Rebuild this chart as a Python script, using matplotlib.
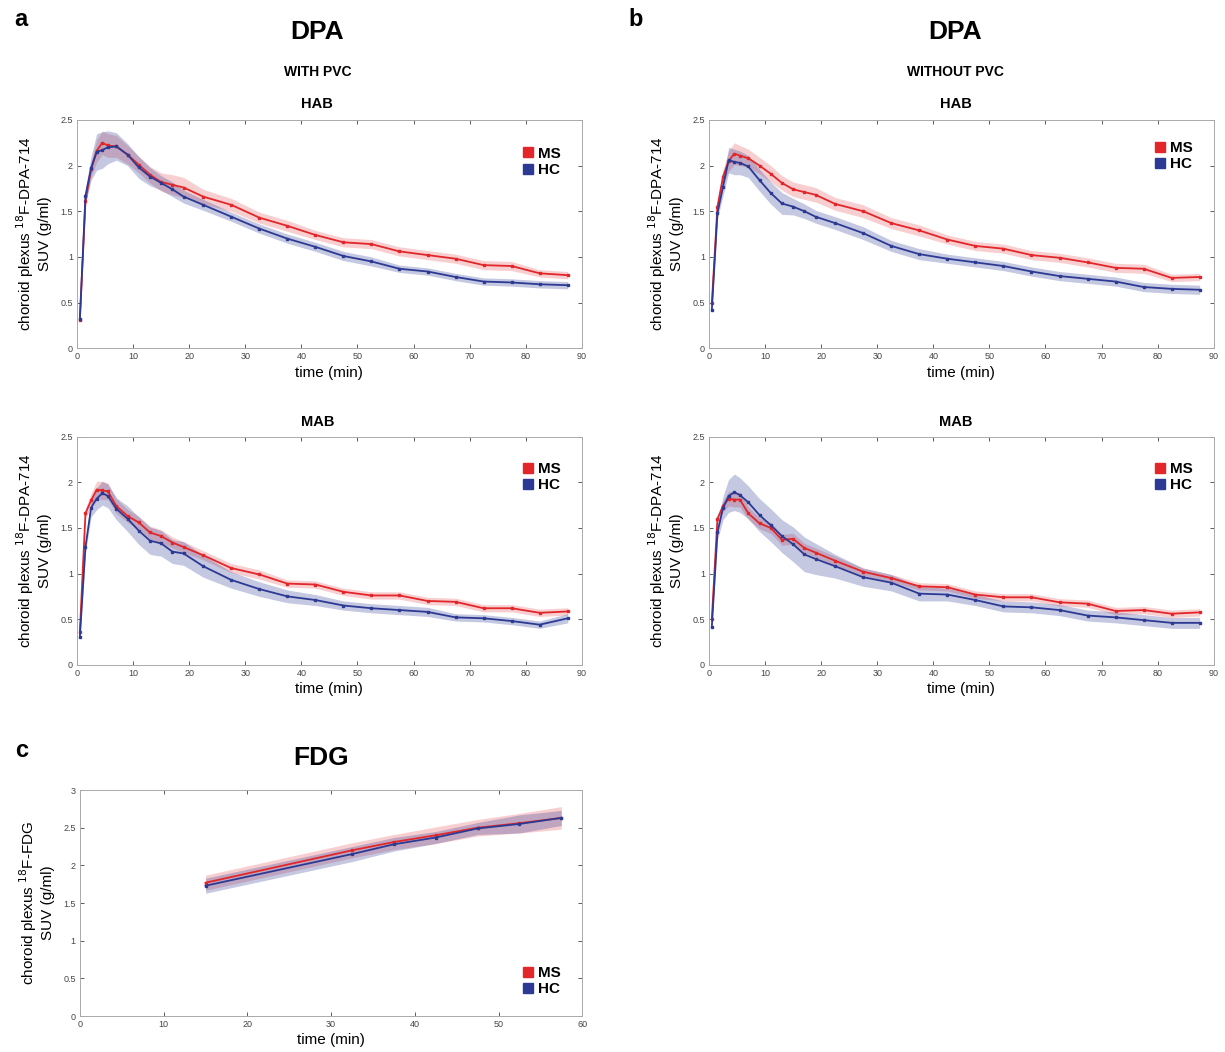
import numpy as np
import matplotlib
matplotlib.use('Agg')
import matplotlib.pyplot as plt
from matplotlib.lines import Line2D

plt.rcParams['font.family'] = ['Liberation Sans', 'DejaVu Sans']

# ------------------------------------------------------------------
# Data
# ------------------------------------------------------------------
t_dpa = [0.5, 1.5, 2.5, 3.5, 4.5, 5.5, 7, 9, 11, 13, 15, 17, 19, 22.5, 27.5,
         32.5, 37.5, 42.5, 47.5, 52.5, 57.5, 62.5, 67.5, 72.5, 77.5, 82.5, 87.5]

# with PVC, HAB
pvc_hab_ms = [0.31, 1.61, 1.96, 2.16, 2.25, 2.22, 2.21, 2.12, 2.01, 1.90, 1.82, 1.79, 1.76, 1.66,
              1.57, 1.43, 1.34, 1.24, 1.16, 1.14, 1.06, 1.02, 0.98, 0.91, 0.90, 0.82, 0.80]
pvc_hab_ms_sem = [0.02, 0.05, 0.08, 0.12, 0.13, 0.13, 0.12, 0.10, 0.09, 0.09, 0.10, 0.11, 0.11, 0.08,
                  0.07, 0.06, 0.06, 0.05, 0.05, 0.05, 0.05, 0.05, 0.05, 0.05, 0.05, 0.04, 0.04]
pvc_hab_hc = [0.32, 1.67, 1.97, 2.15, 2.17, 2.20, 2.21, 2.12, 1.98, 1.88, 1.81, 1.74, 1.66, 1.57,
              1.44, 1.31, 1.20, 1.11, 1.01, 0.95, 0.87, 0.84, 0.78, 0.73, 0.72, 0.70, 0.69]
pvc_hab_hc_sem = [0.02, 0.08, 0.13, 0.20, 0.20, 0.18, 0.15, 0.12, 0.12, 0.10, 0.08, 0.08, 0.07, 0.06,
                  0.05, 0.05, 0.05, 0.05, 0.05, 0.05, 0.04, 0.04, 0.04, 0.04, 0.04, 0.04, 0.04]

# without PVC, HAB
nopvc_hab_ms = [0.49, 1.55, 1.88, 2.05, 2.13, 2.11, 2.08, 2.00, 1.91, 1.81, 1.74, 1.71, 1.68, 1.58,
                1.50, 1.37, 1.29, 1.19, 1.12, 1.09, 1.02, 0.99, 0.94, 0.88, 0.87, 0.77, 0.78]
nopvc_hab_ms_sem = [0.02, 0.05, 0.08, 0.11, 0.12, 0.11, 0.10, 0.09, 0.09, 0.08, 0.08, 0.08, 0.08, 0.07,
                    0.07, 0.06, 0.06, 0.05, 0.05, 0.05, 0.05, 0.05, 0.05, 0.05, 0.05, 0.04, 0.04]
nopvc_hab_hc = [0.42, 1.48, 1.77, 2.06, 2.04, 2.03, 1.99, 1.84, 1.70, 1.585, 1.55, 1.50, 1.44, 1.37,
                1.26, 1.12, 1.03, 0.98, 0.94, 0.90, 0.84, 0.79, 0.76, 0.73, 0.67, 0.65, 0.64]
nopvc_hab_hc_sem = [0.02, 0.06, 0.10, 0.14, 0.14, 0.13, 0.12, 0.12, 0.12, 0.12, 0.09, 0.08, 0.07, 0.07,
                    0.07, 0.06, 0.06, 0.05, 0.05, 0.05, 0.05, 0.05, 0.05, 0.05, 0.05, 0.05, 0.05]

# with PVC, MAB
pvc_mab_ms = [0.36, 1.66, 1.80, 1.92, 1.91, 1.90, 1.74, 1.63, 1.56, 1.45, 1.41, 1.34, 1.29, 1.20,
              1.06, 0.99, 0.89, 0.88, 0.80, 0.76, 0.76, 0.70, 0.69, 0.62, 0.62, 0.57, 0.585]
pvc_mab_ms_sem = [0.02, 0.05, 0.08, 0.09, 0.10, 0.09, 0.08, 0.07, 0.07, 0.07, 0.07, 0.06, 0.06, 0.05,
                  0.05, 0.05, 0.04, 0.04, 0.04, 0.04, 0.04, 0.04, 0.04, 0.04, 0.04, 0.04, 0.04]
pvc_mab_hc = [0.305, 1.29, 1.72, 1.82, 1.88, 1.85, 1.71, 1.60, 1.47, 1.36, 1.33, 1.24, 1.22, 1.08,
              0.93, 0.83, 0.75, 0.71, 0.65, 0.62, 0.60, 0.58, 0.52, 0.51, 0.48, 0.44, 0.51]
pvc_mab_hc_sem = [0.02, 0.06, 0.10, 0.12, 0.13, 0.13, 0.12, 0.14, 0.15, 0.15, 0.14, 0.13, 0.13, 0.12,
                  0.09, 0.08, 0.07, 0.06, 0.05, 0.05, 0.05, 0.05, 0.04, 0.04, 0.04, 0.04, 0.05]

# without PVC, MAB
nopvc_mab_ms = [0.50, 1.60, 1.74, 1.82, 1.81, 1.81, 1.66, 1.55, 1.50, 1.37, 1.38, 1.28, 1.23, 1.14,
                1.02, 0.95, 0.86, 0.85, 0.77, 0.74, 0.74, 0.685, 0.67, 0.59, 0.60, 0.56, 0.575]
nopvc_mab_ms_sem = [0.02, 0.04, 0.06, 0.08, 0.08, 0.08, 0.07, 0.06, 0.06, 0.06, 0.06, 0.05, 0.05, 0.05,
                    0.04, 0.04, 0.04, 0.04, 0.04, 0.04, 0.04, 0.04, 0.04, 0.04, 0.04, 0.04, 0.04]
nopvc_mab_hc = [0.42, 1.45, 1.72, 1.85, 1.89, 1.86, 1.78, 1.64, 1.53, 1.41, 1.32, 1.21, 1.16, 1.08,
                0.96, 0.90, 0.78, 0.77, 0.71, 0.64, 0.63, 0.60, 0.54, 0.52, 0.49, 0.46, 0.46]
nopvc_mab_hc_sem = [0.02, 0.08, 0.13, 0.18, 0.20, 0.19, 0.18, 0.18, 0.18, 0.18, 0.19, 0.19, 0.17, 0.13,
                    0.10, 0.09, 0.08, 0.07, 0.06, 0.06, 0.06, 0.06, 0.06, 0.06, 0.06, 0.06, 0.06]

# FDG
t_fdg = [15, 32.5, 37.5, 42.5, 47.5, 52.5, 57.5]
fdg_ms = [1.77, 2.20, 2.31, 2.40, 2.50, 2.56, 2.63]
fdg_ms_sem = [0.10, 0.10, 0.10, 0.11, 0.11, 0.13, 0.15]
fdg_hc = [1.73, 2.15, 2.28, 2.37, 2.49, 2.55, 2.63]
fdg_hc_sem = [0.10, 0.10, 0.09, 0.08, 0.08, 0.12, 0.10]

RED = '#e2262a'
BLUE = '#2c3a94'
DPA_YLABEL = 'choroid plexus $^{18}$F-DPA-714\nSUV (g/ml)'
FDG_YLABEL = 'choroid plexus $^{18}$F-FDG\nSUV (g/ml)'


def fmt(v):
    return ('%g' % v)


def draw_panel(ax, t, ms, ms_sem, hc, hc_sem, xmax, ymax, ylabel, legend_loc, legend_anchor):
    t = np.asarray(t)
    for y, s, col, a in [(ms, ms_sem, RED, 0.22), (hc, hc_sem, BLUE, 0.28)]:
        y = np.asarray(y)
        s = np.asarray(s)
        ax.fill_between(t, y - s, y + s, color=col, alpha=a, lw=0)
    ax.plot(t, ms, '-s', color=RED, lw=1.3, markersize=2.0)
    ax.plot(t, hc, '-s', color=BLUE, lw=1.3, markersize=2.0)

    ax.set_xlim(0, xmax)
    ax.set_ylim(0, ymax)
    xt = np.arange(0, xmax + 1, 10)
    yt = np.arange(0, ymax + 0.01, 0.5)
    ax.set_xticks(xt)
    ax.set_yticks(yt)
    ax.set_xticklabels([fmt(v) for v in xt])
    ax.set_yticklabels([fmt(v) for v in yt])
    ax.tick_params(direction='in', length=3, width=0.6, labelsize=6.5,
                   colors='#444444', top=True, right=True, pad=3)
    for sp in ax.spines.values():
        sp.set_color('#aaaaaa')
        sp.set_linewidth(0.7)
    ax.set_xlabel('time (min)', fontsize=11, labelpad=3)
    ax.set_ylabel(ylabel, fontsize=11, labelpad=6)

    handles = [Line2D([], [], ls='none', marker='s', color=RED, markersize=7),
               Line2D([], [], ls='none', marker='s', color=BLUE, markersize=7)]
    ax.legend(handles, ['MS', 'HC'], loc=legend_loc, bbox_to_anchor=legend_anchor,
              frameon=False, prop={'weight': 'bold', 'size': 11},
              handlelength=0.7, handletextpad=0.3, labelspacing=0.15, borderaxespad=0)


fig = plt.figure(figsize=(12.25, 10.52), dpi=100)

W = 0.412
H = 0.217
ax_a1 = fig.add_axes([0.0629, 0.669, W, H])
ax_b1 = fig.add_axes([0.5788, 0.669, W, H])
ax_a2 = fig.add_axes([0.0629, 0.368, W, H])
ax_b2 = fig.add_axes([0.5788, 0.368, W, H])
ax_c = fig.add_axes([0.0653, 0.0342, 0.410, 0.2148])

draw_panel(ax_a1, t_dpa, pvc_hab_ms, pvc_hab_ms_sem, pvc_hab_hc, pvc_hab_hc_sem,
           90, 2.5, DPA_YLABEL, 'upper right', (0.97, 0.91))
draw_panel(ax_b1, t_dpa, nopvc_hab_ms, nopvc_hab_ms_sem, nopvc_hab_hc, nopvc_hab_hc_sem,
           90, 2.5, DPA_YLABEL, 'upper right', (0.97, 0.935))
draw_panel(ax_a2, t_dpa, pvc_mab_ms, pvc_mab_ms_sem, pvc_mab_hc, pvc_mab_hc_sem,
           90, 2.5, DPA_YLABEL, 'upper right', (0.97, 0.915))
draw_panel(ax_b2, t_dpa, nopvc_mab_ms, nopvc_mab_ms_sem, nopvc_mab_hc, nopvc_mab_hc_sem,
           90, 2.5, DPA_YLABEL, 'upper right', (0.97, 0.915))
draw_panel(ax_c, t_fdg, fdg_ms, fdg_ms_sem, fdg_hc, fdg_hc_sem,
           60, 3.0, FDG_YLABEL, 'lower right', (0.97, 0.06))

# titles and panel letters
fig.text(0.012, 0.981, 'a', fontsize=17, fontweight='bold', va='center')
fig.text(0.513, 0.981, 'b', fontsize=17, fontweight='bold', va='center')
fig.text(0.012, 0.287, 'c', fontsize=17, fontweight='bold', va='center')

fig.text(0.259, 0.970, 'DPA', fontsize=19, fontweight='bold', ha='center', va='center')
fig.text(0.780, 0.970, 'DPA', fontsize=19, fontweight='bold', ha='center', va='center')
fig.text(0.262, 0.2795, 'FDG', fontsize=19, fontweight='bold', ha='center', va='center')

fig.text(0.259, 0.9316, 'WITH PVC', fontsize=10, fontweight='bold', ha='center', va='center')
fig.text(0.780, 0.9316, 'WITHOUT PVC', fontsize=10, fontweight='bold', ha='center', va='center')

fig.text(0.259, 0.901, 'HAB', fontsize=10.5, fontweight='bold', ha='center', va='center')
fig.text(0.780, 0.901, 'HAB', fontsize=10.5, fontweight='bold', ha='center', va='center')
fig.text(0.259, 0.599, 'MAB', fontsize=10.5, fontweight='bold', ha='center', va='center')
fig.text(0.780, 0.599, 'MAB', fontsize=10.5, fontweight='bold', ha='center', va='center')

fig.savefig('out.png', dpi=100)
